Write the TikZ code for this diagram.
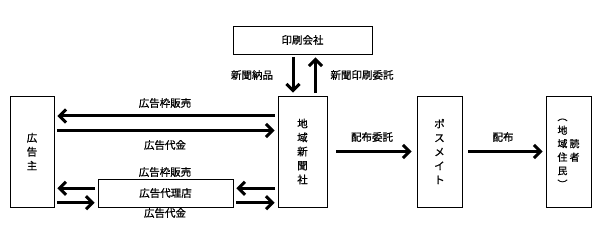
\documentclass[tikz,border=0pt]{standalone}
\usepackage{fontspec}
\setmainfont{Noto Sans CJK JP}[FakeBold=0.8]
\usetikzlibrary{arrows.meta}

\begin{document}
\begin{tikzpicture}[
    x=1pt, y=1pt,
    every node/.style={font=\fontsize{10.5}{14}\selectfont},
    flowbox/.style={draw, line width=0.8pt, inner sep=0pt, align=center},
    tatebox/.style={flowbox, minimum width=45pt, minimum height=111pt},
    yokobox/.style={flowbox, minimum height=28pt},
    flowarrow/.style={-{Straight Barb[length=6.5pt, width=13pt]}, line width=3pt, shorten <=2.5pt, shorten >=3pt}
  ]
    \useasboundingbox (0,0) rectangle (599,227);
    % boxes
    \node[tatebox, minimum width=44pt] (nushi) at (32,75.5) {広\\告\\主};
    \node[tatebox, minimum width=49pt] (shinbun) at (302.5,75.5) {地\\域\\新\\聞\\社};
    \node[tatebox] (posu) at (439.5,75.5) {ポ\\ス\\メ\\イ\\ト};
    \node[tatebox] (dokusha) at (568.5,75.5) {\fontsize{10}{13.5}\selectfont
      \begin{tabular}{@{}c@{}}︵\\地\\域\\住\\民\\︶\end{tabular}\hspace{2pt}%
      \begin{tabular}{@{}c@{}}読\\者\end{tabular}};
    \node[yokobox, minimum width=139pt] (insatsu) at (302.5,187) {印刷会社};
    \node[yokobox, minimum width=135pt] (dairi) at (165.5,34) {広告代理店};
    % labels
    \node (hanbai1) at (165,124) {広告枠販売};
    \node (daikin1) at (165,82) {広告代金};
    \node (hanbai2) at (165,55) {広告枠販売};
    \node (daikin2) at (165,14) {広告代金};
    \node (nouhin) at (252,152) {新聞納品};
    \node (itaku) at (362,152) {新聞印刷委託};
    \node (haifuitaku) at (372,90) {配布委託};
    \node (haifu) at (503,90) {配布};
    % arrows
    \draw[flowarrow] ([yshift=35.5pt]shinbun.west) -- ([yshift=35.5pt]nushi.east);
    \draw[flowarrow] ([yshift=21pt]nushi.east) -- ([yshift=21pt]shinbun.east -| shinbun.west);
    \draw[flowarrow] ([yshift=4.7pt]dairi.west) -- ([yshift=4.7pt]dairi.west -| nushi.east);
    \draw[flowarrow] ([yshift=-9.7pt]dairi.west -| nushi.east) -- ([yshift=-9.7pt]dairi.west);
    \draw[flowarrow] ([yshift=4.7pt]dairi.east -| shinbun.west) -- ([yshift=4.7pt]dairi.east);
    \draw[flowarrow] ([yshift=-9.7pt]dairi.east) -- ([yshift=-9.7pt]dairi.east -| shinbun.west);
    \draw[flowarrow] ([xshift=-9.5pt]insatsu.south) -- ([xshift=-9.5pt]shinbun.north);
    \draw[flowarrow] ([xshift=13pt]shinbun.north) -- ([xshift=13pt]insatsu.south);
    \draw[flowarrow, shorten <=9pt, shorten >=5pt] (shinbun.east) -- (posu.west);
    \draw[flowarrow, shorten <=6pt] (posu.east) -- (dokusha.west);
  \end{tikzpicture}
\end{document}
